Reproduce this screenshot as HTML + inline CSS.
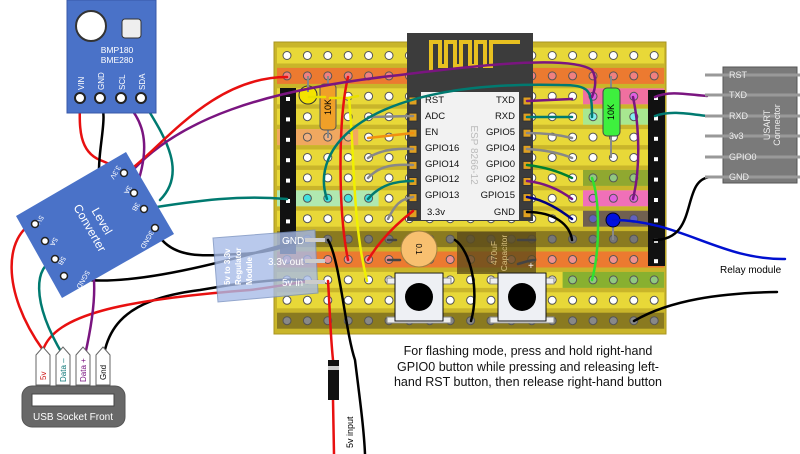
<!DOCTYPE html>
<html><head><meta charset="utf-8">
<style>
html,body{margin:0;padding:0;background:#fff;width:800px;height:454px;overflow:hidden}
svg{display:block;font-family:"Liberation Sans",sans-serif}
</style></head><body>
<svg id="s" width="800" height="454" viewBox="0 0 800 454" xmlns="http://www.w3.org/2000/svg">
<rect x="274" y="42" width="392" height="292" fill="#c9b52a" stroke="#a99520"/>
<g id="strips"></g>
<g id="holes"></g>
<rect x="280" y="88" width="16" height="166" fill="#111"/>
<rect x="648" y="90" width="17" height="176" fill="#111"/>
<g id="hpins"></g>
<circle cx="308" cy="95" r="9" fill="#f4e400" stroke="#333"/>
<line x1="308" y1="76" x2="308" y2="92" stroke="#888" stroke-width="2"/>
<line x1="328" y1="76" x2="328" y2="138" stroke="#888" stroke-width="2"/>
<rect x="320" y="84" width="16" height="46" rx="4" fill="#f0a028" stroke="#555"/>
<text x="328" y="107" font-size="9" fill="#000" transform="rotate(-90 328 107)" text-anchor="middle" dy="3">10K</text>
<line x1="611" y1="76" x2="611" y2="158" stroke="#888" stroke-width="2"/>
<rect x="603" y="88" width="17" height="48" rx="4" fill="#3ef03e" stroke="#444"/>
<text x="611" y="112" font-size="9" transform="rotate(-90 611 112)" text-anchor="middle" dy="3">10K</text>
<rect x="407" y="33" width="126" height="188" fill="#3c3c3c"/>
<path d="M431 72 V42 H440 V66 H446 V42 H455 V66 H461 V42 H470 V66 H476 V42 H485 V66 H491 V42 H520" fill="none" stroke="#e8c020" stroke-width="4"/>
<rect x="421" y="92" width="98" height="128" fill="#f2f2f2"/>
<g id="espPads"></g>
<g font-size="9.5" fill="#111">
<text x="425" y="103">RST</text><text x="425" y="119">ADC</text><text x="425" y="135">EN</text>
<text x="425" y="151">GPIO16</text><text x="425" y="167">GPIO14</text><text x="425" y="182">GPIO12</text>
<text x="425" y="198">GPIO13</text><text x="427" y="215">3.3v</text>
<text x="515" y="103" text-anchor="end">TXD</text><text x="515" y="119" text-anchor="end">RXD</text>
<text x="515" y="135" text-anchor="end">GPIO5</text><text x="515" y="151" text-anchor="end">GPIO4</text>
<text x="515" y="167" text-anchor="end">GPIO0</text><text x="515" y="182" text-anchor="end">GPIO2</text>
<text x="515" y="198" text-anchor="end">GPIO15</text><text x="515" y="215" text-anchor="end">GND</text>
</g>
<text x="471" y="155" font-size="10" fill="#bbb" transform="rotate(90 471 155)" text-anchor="middle">ESP 8266-12</text>
<circle cx="419" cy="249" r="18" fill="#f8c070" stroke="#a08040"/>
<text x="419" y="249" font-size="8" transform="rotate(90 419 249)" text-anchor="middle" dy="3">0.1</text>
<rect x="457" y="232" width="79" height="42" fill="#5a4a1a" opacity="0.75"/>
<text x="497" y="253" font-size="8.5" fill="#d8c080" transform="rotate(-90 497 253)" text-anchor="middle">470uF</text>
<text x="497" y="253" font-size="8.5" fill="#d8c080" transform="rotate(-90 497 253)" text-anchor="middle" dy="10">Capacitor</text>
<text x="528" y="269" font-size="10" fill="#fff">+</text>
<g id="btns"></g>
<line x1="613" y1="220" x2="613" y2="240" stroke="#888" stroke-width="2"/>
<circle cx="613" cy="220" r="7" fill="#0010e0" stroke="#002"/>
<g fill="none" stroke-width="2.5" stroke-linecap="round">
<path d="M309 97 H325 M330 98 L348 98 L358 96" stroke="#e8e000"/>
<path d="M349 98 C 355 160,352 220,367 281" stroke="#f0f000"/>
<path d="M348 77 C 338 120,338 210,348 260" stroke="#e81010"/>
<path d="M368 260 C 380 240,395 225,413 211" stroke="#e81010"/>
<path d="M368 117 L413 116" stroke="#888"/>
<path d="M368 138 L413 133" stroke="#f09010"/>
<path d="M368 158 C380 150,395 148,413 149" stroke="#888"/>
<path d="M368 178 C380 165,395 164,413 165" stroke="#888"/>
<path d="M368 199 C380 185,395 181,413 181" stroke="#007a70"/>
<path d="M388 219 C395 205,400 199,413 197" stroke="#888"/>
<path d="M527 101 L572 99" stroke="#7a1580"/>
<path d="M527 117 L572 117" stroke="#007a70"/>
<path d="M527 133 C545 133,560 135,572 138" stroke="#888"/>
<path d="M527 149 C545 150,560 153,572 158" stroke="#888"/>
<path d="M527 165 C545 167,560 172,572 178" stroke="#008030"/>
<path d="M527 181 C545 183,560 190,572 199" stroke="#7a1580"/>
<path d="M527 197 C545 200,560 210,572 219" stroke="#000080"/>
<path d="M527 212 C555 212,570 225,572 240" stroke="#000"/>
<path d="M592 178 C600 200,600 250,592 280" stroke="#30e030"/>
<path d="M633 97 C640 130,640 170,633 199" stroke="#7a1580"/>
<path d="M455 240 C470 250,480 290,471 321" stroke="#000"/>
<path d="M518 240 H535 M518 264 C525 262,530 260,535 260" stroke="#444"/>
<path d="M388 240 H396 M388 260 H400" stroke="#444"/>
<path d="M141 98 C160 130,190 170,160 200" stroke="#007a70"/>
<path d="M144 209 C200 200,240 195,287 199" stroke="#007a70"/>
<path d="M327 199 C310 150,360 80,560 85 C590 85,592 90,592 117" stroke="#007a70"/>
<path d="M133 170 C180 120,260 90,400 75 C480 65,570 55,592 70 C598 80,594 92,592 97" stroke="#7a1580"/>
<path d="M126 173 C160 150,210 77,287 77" stroke="#e81010"/>
<path d="M80 98 C80 120,76 150,100 160 C115 166,120 170,124 173" stroke="#e81010"/>
<path d="M121 98 C140 115,155 140,134 193" stroke="#7a1580"/>
<path d="M100 98 C110 120,95 150,100 190 C105 215,140 220,155 228" stroke="#000"/>
<path d="M162 240 C180 260,210 255,240 254 C270 253,290 245,307 240" stroke="#000"/>
<path d="M64 276 C110 290,200 270,300 240" stroke="#000"/>
<path d="M102 386 C100 330,120 300,200 290 L230 285 C270 280,295 278,305 281" stroke="#000"/>
<path d="M35 222 C5 235,0 290,43 350" stroke="#e81010"/>
<path d="M43 350 C55 315,120 300,250 290 C290 285,300 281,318 281" stroke="#e81010"/>
<path d="M55 260 C35 265,30 300,63 355" stroke="#007a70"/>
<path d="M45 241 C80 232,110 245,85 355" stroke="#7a1580"/>
<path d="M328 240 C340 260,345 330,355 360 C360 400,364 430,365 454" stroke="#000"/>
<path d="M328 281 C330 310,330 330,333 360" stroke="#e81010"/>
<path d="M333 400 L334 454" stroke="#e81010"/>
<path d="M634 321 C670 300,720 293,777 292" stroke="#000"/>
<path d="M613 220 C680 220,720 260,785 259" stroke="#0010d0"/>
<path d="M654 240 C700 240,680 180,710 177" stroke="#000"/>
<path d="M655 97 C670 90,690 95,707 96" stroke="#7a1580"/>
<path d="M655 116 C670 110,690 114,707 116" stroke="#007a70"/>
</g>
<rect x="67" y="0" width="89" height="113" fill="#4a72c8" stroke="#3858a8"/>
<circle cx="91" cy="26" r="15" fill="#fff" stroke="#333" stroke-width="2"/>
<rect x="122" y="19" width="19" height="19" rx="3" fill="#eee" stroke="#333"/>
<text x="117" y="53" font-size="8.5" fill="#fff" text-anchor="middle">BMP180</text>
<text x="117" y="63" font-size="8.5" fill="#fff" text-anchor="middle">BME280</text>
<g font-size="8" fill="#fff">
<text transform="translate(84 90) rotate(-90)">VIN</text><text transform="translate(104 90) rotate(-90)">GND</text>
<text transform="translate(125 90) rotate(-90)">SCL</text><text transform="translate(145 90) rotate(-90)">SDA</text>
</g>
<g fill="#fff" stroke="#222" stroke-width="2"><circle cx="80" cy="98" r="5"/><circle cx="100" cy="98" r="5"/><circle cx="121" cy="98" r="5"/><circle cx="141" cy="98" r="5"/></g>
<polygon points="16,216 126,152 174,234 62,298" fill="#4a72c8"/>
<text x="95" y="225" font-size="12" fill="#fff" text-anchor="middle" transform="rotate(60 95 225)" dy="-4">Level</text>
<text x="95" y="225" font-size="12" fill="#fff" text-anchor="middle" transform="rotate(60 95 225)" dy="10">Converter</text>
<g font-size="7" fill="#fff">
<text transform="translate(117 165) rotate(120)">3.3V</text>
<text transform="translate(128 185) rotate(120)">3A</text>
<text transform="translate(136 202) rotate(120)">3B</text>
<text transform="translate(150 230) rotate(120)">3GND</text>
<text transform="translate(40 215) rotate(120)">5V</text>
<text transform="translate(54 237) rotate(120)">5A</text>
<text transform="translate(62 256) rotate(120)">5B</text>
<text transform="translate(86 270) rotate(120)">5GND</text>
</g>
<g fill="#fff" stroke="#222" stroke-width="1.5"><circle cx="124" cy="173" r="3.5"/><circle cx="134" cy="193" r="3.5"/><circle cx="144" cy="209" r="3.5"/><circle cx="155" cy="228" r="3.5"/><circle cx="35" cy="224" r="3.5"/><circle cx="45" cy="241" r="3.5"/><circle cx="55" cy="259" r="3.5"/><circle cx="64" cy="276" r="3.5"/></g>
<polygon points="213,238 315,230 318,293 218,302" fill="#a8bce8" opacity="0.8" stroke="#7890c0"/>
<g font-size="8" fill="#fff" font-weight="bold">
<text transform="translate(230 285) rotate(-90)">5v to 3.3v</text>
<text transform="translate(241 285) rotate(-90)">Regulator</text>
<text transform="translate(252 285) rotate(-90)">Module</text>
</g>
<g font-size="10" fill="#fff"><text x="282" y="244">GND</text><text x="268" y="265">3.3v out</text><text x="282" y="286">5v in</text></g>
<g stroke="#ccc" stroke-width="4"><line x1="305" y1="240" x2="325" y2="240"/><line x1="305" y1="261" x2="325" y2="261"/><line x1="305" y1="282" x2="325" y2="282"/></g>
<g font-size="8">
<path d="M36 385 V355 L43 347 L50 355 V385 Z" fill="#fff" stroke="#666"/>
<path d="M56 385 V355 L63 347 L70 355 V385 Z" fill="#fff" stroke="#666"/>
<path d="M76 385 V355 L83 347 L90 355 V385 Z" fill="#fff" stroke="#666"/>
<path d="M96 385 V355 L103 347 L110 355 V385 Z" fill="#fff" stroke="#666"/>
<text transform="translate(46 380) rotate(-90)" fill="#d02020">5v</text>
<text transform="translate(66 382) rotate(-90)" fill="#107878">Data –</text>
<text transform="translate(86 382) rotate(-90)" fill="#7a1580">Data +</text>
<text transform="translate(106 380) rotate(-90)" fill="#000">Gnd</text>
</g>
<rect x="22" y="386" width="103" height="41" rx="10" fill="#686868" stroke="#555"/>
<rect x="32" y="394" width="82" height="12" fill="#fff" stroke="#444"/>
<text x="73" y="420" font-size="10" fill="#fff" text-anchor="middle">USB Socket Front</text>
<rect x="328" y="360" width="11" height="40" fill="#111"/>
<rect x="328" y="366" width="11" height="4" fill="#ccc"/>
<text transform="translate(353 448) rotate(-90)" font-size="9">5v input</text>
<rect x="723" y="67" width="74" height="116" fill="#7a7a7a" stroke="#555"/>
<g id="usart" stroke="#999" stroke-width="3"></g>
<g font-size="9" fill="#eee"><text x="729" y="78">RST</text><text x="729" y="98">TXD</text><text x="729" y="119">RXD</text><text x="729" y="139">3v3</text><text x="729" y="160">GPIO0</text><text x="729" y="180">GND</text></g>
<text transform="translate(770 125) rotate(-90)" font-size="9" fill="#eee" text-anchor="middle">USART</text>
<text transform="translate(780 125) rotate(-90)" font-size="9" fill="#eee" text-anchor="middle">Connector</text>
<text x="720" y="273" font-size="10">Relay module</text>
<g font-size="12.5" fill="#111" text-anchor="middle">
<text x="528" y="355">For flashing mode, press and hold right-hand</text>
<text x="528" y="371">GPIO0 button while pressing and releasing left-</text>
<text x="528" y="386">hand RST button, then release right-hand button</text>
</g>
</svg>
<script>
var NS="http://www.w3.org/2000/svg";
function el(p,t,a){var e=document.createElementNS(NS,t);for(var k in a)e.setAttribute(k,a[k]);document.getElementById(p).appendChild(e);return e;}
var x0=287,px=20.4,y0=55.5,py=20.4;
var Y="#e8d838";
var strips=[[0,0,18,Y],[1,0,18,"#ec7a30"],[2,0,18,Y],[2,15,18,"#f070a0"],[3,0,18,Y],[3,15,18,"#a8e890"],[4,0,18,Y],[4,0,3,"#f0a860"],[5,0,18,Y],[6,0,18,Y],[6,15,18,"#90a830"],[7,0,18,Y],[7,0,4,"#b0e8b0"],[7,15,18,"#f070b8"],[8,0,18,Y],[8,15,18,"#706050"],[9,0,18,"#8a7a20"],[10,0,18,"#ec7a30"],[11,0,18,Y],[11,14,18,"#88b030"],[12,0,18,Y],[13,0,18,"#8a7a20"]];
strips.forEach(function(s){el("strips","rect",{x:x0+s[1]*px-10,y:y0+s[0]*py-8,width:(s[2]-s[1])*px+20,height:16,fill:s[3]});});
var hc={1:"#f08080",9:"#777",13:"#888",10:"#f09090"};
for(var r=0;r<14;r++)for(var c=0;c<19;c++){var f=hc[r]||"#fff";if(r==6&&c>=15)f="#90c880";if(r==11&&c>=14)f="#90c880";if(r==7&&c<5)f="#40e0e0";if(r==7&&c>=15)f="#e060e0";if(r==2&&c>=15)f="#e060e0";if(r==3&&c>=15)f="#80f0f0";if(r==8&&c>=15)f="#6060c0";if(r==4&&c<4)f="#f0b080";
el("holes","circle",{cx:x0+c*px,cy:y0+r*py,r:4,fill:f,stroke:"#555","stroke-width":1});}
for(var i=0;i<8;i++){el("hpins","rect",{x:286,y:97+i*20.4,width:4,height:4,fill:"#fff"});}
for(var i=0;i<9;i++){el("hpins","rect",{x:654,y:96+i*20.4,width:4,height:4,fill:"#fff"});}
for(var i=0;i<8;i++){var y=97+i*16.1;el("espPads","rect",{x:409,y:y,width:8,height:8,fill:"#e0a020",stroke:"#333"});el("espPads","rect",{x:523,y:y,width:8,height:8,fill:"#e0a020",stroke:"#333"});}
[[395,277],[498,277]].forEach(function(b){el("btns","rect",{x:b[0]-8,y:b[1]+1,width:64,height:6,fill:"#eee",stroke:"#888"});el("btns","rect",{x:b[0]-8,y:b[1]+40,width:64,height:6,fill:"#eee",stroke:"#888"});el("btns","rect",{x:b[0],y:b[1]-4,width:48,height:48,fill:"#eef0f4",stroke:"#111"});el("btns","circle",{cx:b[0]+24,cy:b[1]+20,r:14,fill:"#000"});});
[75,95,116,136,157,177].forEach(function(y){el("usart","line",{x1:705,y1:y,x2:800,y2:y});});
</script>
</body></html>
